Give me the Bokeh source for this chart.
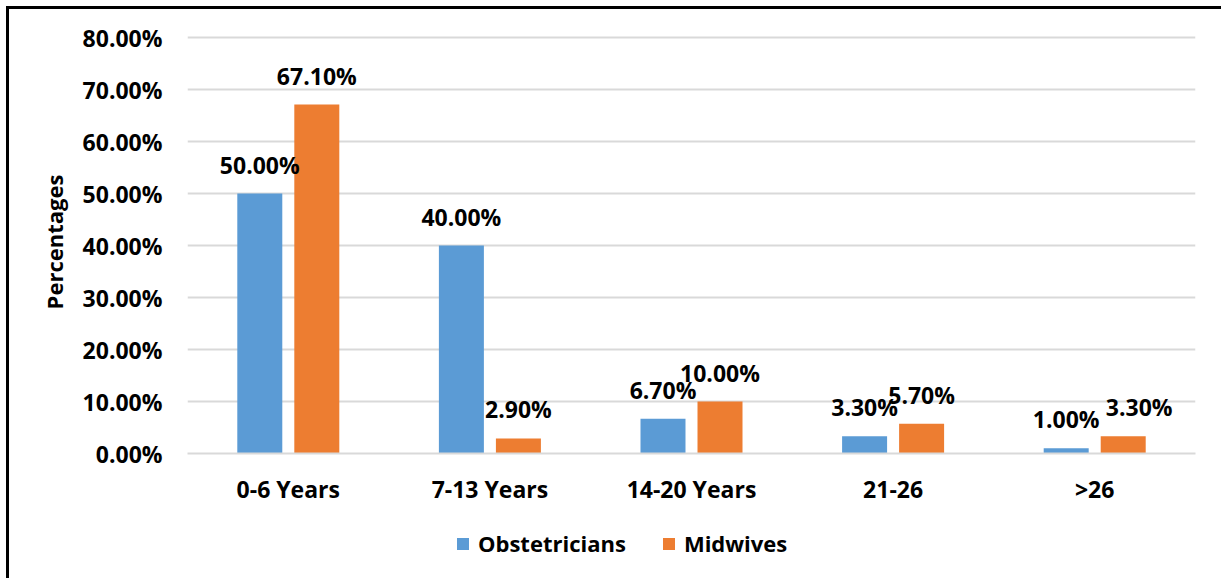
from bokeh.plotting import figure
from bokeh.layouts import column
from bokeh.models import (ColumnDataSource, FactorRange, Range1d, FixedTicker,
                          PrintfTickFormatter, Legend, LegendItem)
from bokeh.transform import dodge
from bokeh.core.properties import value
from bokeh.embed import file_html
from bokeh.resources import INLINE

categories = ["0-6 Years", "7-13 Years", "14-20 Years", "21-26", ">26"]
obstetricians = [50.0, 40.0, 6.7, 3.3, 1.0]
midwives = [67.1, 2.9, 10.0, 5.7, 3.3]
series_names = ["Obstetricians", "Midwives"]
y_ticks = [0, 10, 20, 30, 40, 50, 60, 70, 80]

FONT = "Open Sans"
BLUE = "#5B9BD5"
ORANGE = "#ED7D31"
GRID = "#D9D9D9"

src = ColumnDataSource(dict(
    cat=categories,
    obs=obstetricians,
    mid=midwives,
    obs_lbl=[f"{v:.2f}%" for v in obstetricians],
    mid_lbl=[f"{v:.2f}%" for v in midwives],
))
# label nudges (style only)
src.data["obs_dx"] = [0, 0, 0, 0, 0]
src.data["mid_dx"] = [0, 0, 0, 0, 16]

W = 1212
p = figure(width=W, height=506, output_backend="svg", toolbar_location=None,
           x_range=FactorRange(*categories, range_padding=0),
           y_range=Range1d(0, 81.35),
           min_border_left=178, min_border_right=26, min_border_top=21,
           min_border_bottom=62)
p.outline_line_color = None
p.background_fill_color = "white"
p.border_fill_color = "white"

BW = 0.2232
OFF = 0.1414
p.vbar(x=dodge("cat", -OFF, range=p.x_range), top="obs", width=BW, bottom=0,
       source=src, fill_color=BLUE, line_color=None)
p.vbar(x=dodge("cat", OFF, range=p.x_range), top="mid", width=BW, bottom=0,
       source=src, fill_color=ORANGE, line_color=None)

common = dict(text_font=value(FONT), text_font_style="bold", text_font_size="23px",
              text_color="#000000", text_align="center", text_baseline="alphabetic",
              y_offset=-29)
p.text(x=dodge("cat", -OFF, range=p.x_range), y="obs", text="obs_lbl",
       x_offset="obs_dx", source=src, **common)
p.text(x=dodge("cat", OFF, range=p.x_range), y="mid", text="mid_lbl",
       x_offset="mid_dx", source=src, **common)

# axes
p.yaxis.ticker = FixedTicker(ticks=y_ticks)
p.yaxis.formatter = PrintfTickFormatter(format="%.2f%%")
p.yaxis.axis_line_color = None
p.yaxis.major_tick_line_color = None
p.yaxis.minor_tick_line_color = None
p.yaxis.major_label_standoff = 19
p.yaxis.axis_label = "Percentages"
p.yaxis.axis_label_standoff = 11
for ax in (p.xaxis, p.yaxis):
    ax.major_label_text_font = FONT
    ax.major_label_text_font_style = "bold"
    ax.major_label_text_font_size = "23px"
    ax.major_label_text_color = "#000000"
    ax.axis_label_text_font = FONT
    ax.axis_label_text_font_style = "bold"
    ax.axis_label_text_font_size = "22px"
    ax.axis_label_text_color = "#000000"

p.xaxis.axis_line_color = GRID
p.xaxis.axis_line_width = 2
p.xaxis.major_tick_line_color = None
p.xaxis.minor_tick_line_color = None
p.xaxis.major_label_standoff = 13

p.xgrid.grid_line_color = None
p.ygrid.ticker = FixedTicker(ticks=y_ticks)
p.ygrid.grid_line_color = GRID
p.ygrid.grid_line_width = 2

# legend strip (separate figure so the legend is not clipped by the plot frame)
lg = figure(width=W, height=63, output_backend="svg", toolbar_location=None,
            x_axis_type=None, y_axis_type=None,
            min_border_left=178, min_border_right=26, min_border_top=0,
            min_border_bottom=0,
            x_range=Range1d(0, 1), y_range=Range1d(0, 1))
lg.outline_line_color = None
lg.border_fill_color = "white"
lg.background_fill_color = "white"
# legend keys: zero-height bars (invisible) so the legend swatches are drawn
k1 = lg.vbar(x=[0.5], top=[0], bottom=0, width=0.1, fill_color=BLUE, line_color=None)
k2 = lg.vbar(x=[0.5], top=[0], bottom=0, width=0.1, fill_color=ORANGE, line_color=None)
legend = Legend(items=[LegendItem(label=series_names[0], renderers=[k1], index=0),
                       LegendItem(label=series_names[1], renderers=[k2], index=0)],
                orientation="horizontal", location=(268, 20),
                glyph_width=15, glyph_height=15, label_standoff=8, spacing=35,
                padding=0, margin=0, border_line_color=None,
                background_fill_alpha=0,
                label_text_font=FONT, label_text_font_style="bold",
                label_text_font_size="22px", label_text_color="#000000")
lg.add_layout(legend)

layout = column(p, lg, spacing=0)
layout.styles = {"margin-left": "6px", "margin-top": "6px",
                 "border-left": "3px solid #000", "border-top": "3px solid #000",
                 "background-color": "white"}

open("out.html", "w").write(file_html(layout, INLINE))
